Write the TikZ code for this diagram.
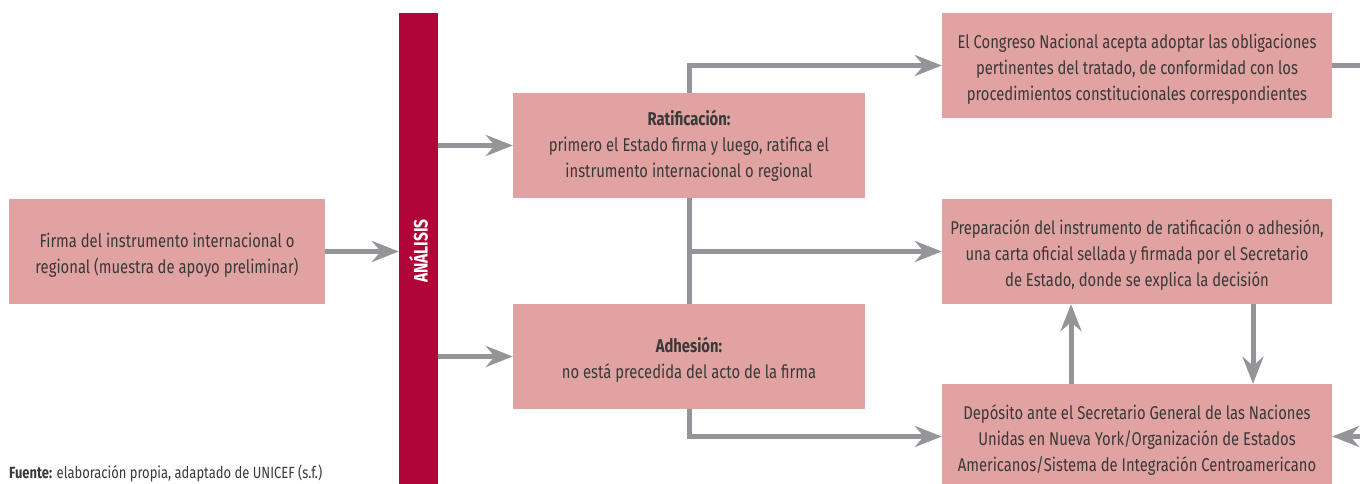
\documentclass[tikz,border=0pt]{standalone}
\usepackage{fontspec}
\setmainfont[FakeStretch=0.8]{Fira Sans}
\usepackage{xcolor}
\usetikzlibrary{arrows.meta}
\usetikzlibrary{positioning}
\definecolor{rosa}{HTML}{E0A3A1}
\definecolor{vino}{HTML}{B10537}
\definecolor{gris}{HTML}{939598}
\definecolor{texto}{HTML}{3A3839}
\newcommand{\tope}{\rule{0pt}{21pt}}
\tikzstyle{caja} = [rectangle, fill=rosa, text=texto, align=center, minimum height=105pt, inner sep=0pt, font=\fontsize{18.5}{26}\selectfont]
\tikzstyle{barra} = [rectangle, fill=vino, text=white, minimum width=39pt, minimum height=476pt, inner sep=0pt, font=\bfseries\fontsize{19.5}{19.5}\selectfont]
\tikzstyle{linea} = [draw=gris, line width=5pt]
\tikzstyle{flecha} = [linea, -{Stealth[length=27pt, width=21pt, inset=9pt]}]

\begin{document}
\begin{tikzpicture}[x=1pt, y=1pt]
  \useasboundingbox (0,0) rectangle (1360,484);
  \node[caja, minimum width=316pt] (firma) at (167,232.5) {\tope Firma del instrumento internacional o\\regional (muestra de apoyo preliminar)};
  \node[barra] (analisis) at (418.5,233) {\rotatebox{90}{ANÁLISIS}};
  \node[caja, minimum width=352pt] (rat) at (689,338.5) {\rule{0pt}{16pt}\textbf{Ratificación:}\\primero el Estado firma y luego, ratifica el\\instrumento internacional o regional};
  \node[caja, minimum width=352pt] (adh) at (689,127.5) {\tope\textbf{Adhesión:}\\no está precedida del acto de la firma};
  \node[caja, minimum width=390pt] (cong) at (1137,418.5) {\tope El Congreso Nacional acepta adoptar las obligaciones\\pertinentes del tratado, de conformidad con los\\procedimientos constitucionales correspondientes};
  \node[caja, minimum width=390pt] (prep) at (1137,232.5) {\tope Preparación del instrumento de ratificación o adhesión,\\una carta oficial sellada y firmada por el Secretario\\de Estado, donde se explica la decisión};
  \node[caja, minimum width=390pt] (dep) at (1137,47.5) {\tope Depósito ante el Secretario General de las Naciones\\Unidas en Nueva York/Organización de Estados\\Americanos/Sistema de Integración Centroamericano};
  \node[text=texto, anchor=base west, inner sep=0pt, font=\fontsize{16.2}{16.2}\selectfont] (fuente) at (9,5) {\textbf{Fuente:} elaboración propia, adaptado de UNICEF (s.f.)};

  \coordinate (salida) at (1365,418.5);
  \coordinate (entrada) at (1365,47.5);

  \draw[flecha] (firma.east) -- (firma.east -| analisis.west);
  \draw[flecha] (analisis.east |- rat.west) -- (rat.west);
  \draw[flecha] (analisis.east |- adh.west) -- (adh.west);
  \draw[flecha] (rat.north) |- (cong.west);
  \draw[linea] (rat.south) -- (adh.north);
  \draw[flecha] (rat.south |- prep.west) -- (prep.west);
  \draw[flecha] (adh.south) |- (dep.west);
  \draw[flecha] ([xshift=-66pt]dep.north) -- ([xshift=-66pt]prep.south);
  \draw[flecha] ([xshift=116pt]prep.south) -- ([xshift=116pt]dep.north);
  \draw[linea] (cong.east) -- (salida);
  \draw[flecha] (entrada) -- (dep.east);
\end{tikzpicture}
\end{document}
